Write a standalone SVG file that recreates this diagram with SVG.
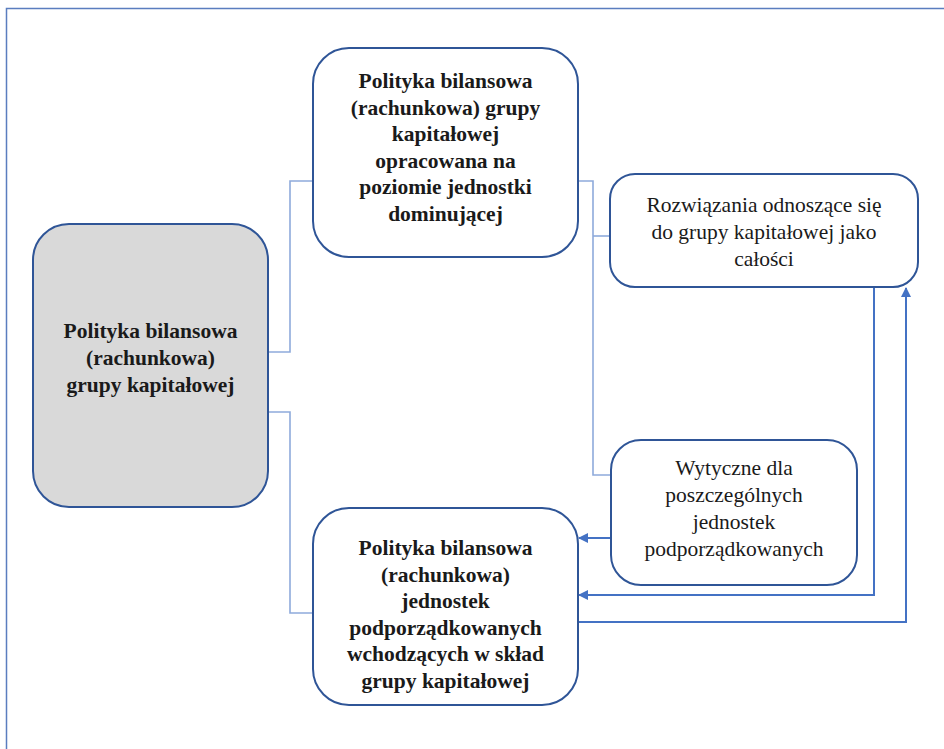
<svg xmlns="http://www.w3.org/2000/svg" width="944" height="749" viewBox="0 0 944 749" font-family="Liberation Serif, Times New Roman, Times, serif">
<defs>
<marker id="ah" viewBox="0 0 10 10" refX="9" refY="5" markerWidth="10" markerHeight="10" markerUnits="userSpaceOnUse" orient="auto">
<path d="M0,0 L10,5 L0,10 z" fill="#4472c4"/>
</marker>
<style>
.box{fill:#ffffff;stroke:#2f5597;stroke-width:2}
.grey{fill:#d9d9d9}
.thin{fill:none;stroke:#8eaadb;stroke-width:1.6}
.arr{fill:none;stroke:#4472c4;stroke-width:2}
text{font-size:21.5px;fill:#1a1a1a;text-anchor:middle}
.b{font-weight:bold}
</style>
</defs>
<rect width="944" height="749" fill="#ffffff"/>
<rect x="6.5" y="8.5" width="1000" height="1000" fill="none" stroke="#5a7dbf" stroke-width="1.5"/>

<g id="connectors">
<polyline class="thin" points="268,352 290,352 290,181 313,181"/>
<polyline class="thin" points="268,412 290,412 290,613 313,613"/>
<polyline class="thin" points="578,181 593,181 593,475 611,475"/>
<polyline class="thin" points="593,236 610,236"/>
<polyline class="arr" points="611,538 579,538" marker-end="url(#ah)"/>
<polyline class="arr" points="874,287 874,595 579,595" marker-end="url(#ah)"/>
<polyline class="arr" points="578,622 906,622 906,288" marker-end="url(#ah)"/>
</g>

<g id="node-left">
<rect class="box grey" x="33" y="224" width="235" height="283" rx="36" ry="36"/>
<text class="b" x="150.5" y="338">Polityka bilansowa</text>
<text class="b" x="150.5" y="365">(rachunkowa)</text>
<text class="b" x="150.5" y="391.5">grupy kapitałowej</text>
</g>

<g id="node-top">
<rect class="box" x="313" y="48" width="265" height="209" rx="36" ry="36"/>
<text class="b" x="445.5" y="88">Polityka bilansowa</text>
<text class="b" x="445.5" y="114.6">(rachunkowa) grupy</text>
<text class="b" x="445.5" y="141.2">kapitałowej</text>
<text class="b" x="445.5" y="167.8">opracowana na</text>
<text class="b" x="445.5" y="194.4">poziomie jednostki</text>
<text class="b" x="445.5" y="221">dominującej</text>
</g>

<g id="node-bottom">
<rect class="box" x="313" y="508" width="265" height="197" rx="36" ry="36"/>
<text class="b" x="445.5" y="555">Polityka bilansowa</text>
<text class="b" x="445.5" y="581.6">(rachunkowa)</text>
<text class="b" x="445.5" y="608.2">jednostek</text>
<text class="b" x="445.5" y="634.8">podporządkowanych</text>
<text class="b" x="445.5" y="661.4">wchodzących w skład</text>
<text class="b" x="445.5" y="688">grupy kapitałowej</text>
</g>

<g id="node-rozwiazania">
<rect class="box" x="610" y="174" width="308" height="113" rx="25" ry="25"/>
<text x="764" y="212">Rozwiązania odnoszące się</text>
<text x="764" y="239">do grupy kapitałowej jako</text>
<text x="764" y="266">całości</text>
</g>

<g id="node-wytyczne">
<rect class="box" x="611" y="440" width="246" height="145" rx="30" ry="30"/>
<text x="734" y="475">Wytyczne dla</text>
<text x="734" y="502">poszczególnych</text>
<text x="734" y="529">jednostek</text>
<text x="734" y="556">podporządkowanych</text>
</g>
</svg>
